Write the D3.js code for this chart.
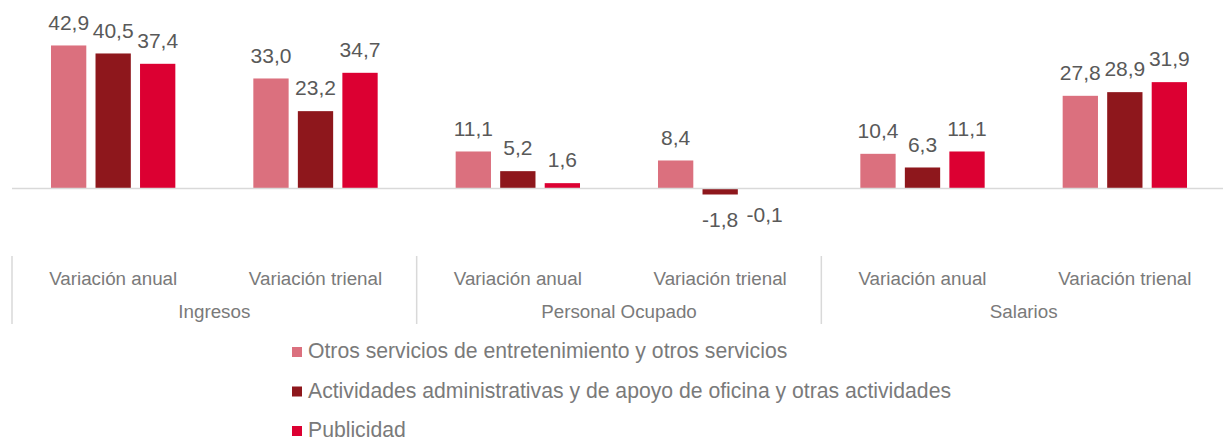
<!DOCTYPE html>
<html>
<head>
<meta charset="utf-8">
<script src="https://cdn.jsdelivr.net/npm/d3@7"></script>
<style>
  body { margin: 0; background: #fff; }
  svg { display: block; font-family: "Liberation Sans", Arial, sans-serif; }
  .val { fill: #595959; font-size: 21px; text-anchor: middle; }
  .cat { fill: #7a7a7a; font-size: 18.8px; text-anchor: middle; }
  .leg { fill: #7a7a7a; font-size: 21.2px; }
</style>
</head>
<body>
<div id="chart"></div>
<script>
// data
var groups = ["Ingresos", "Personal Ocupado", "Salarios"];
var periods = ["Variación anual", "Variación trienal"];
var series = [
  "Otros servicios de entretenimiento y otros servicios",
  "Actividades administrativas y de apoyo de oficina y otras actividades",
  "Publicidad"
];
var colors = ["#db707e", "#8e171c", "#dc0032"];
// one array per series, in order: Ingresos anual/trienal, Personal anual/trienal, Salarios anual/trienal
var otrosServicios = [42.9, 33.0, 11.1, 8.4, 10.4, 27.8];
var actividadesAdmin = [40.5, 23.2, 5.2, -1.8, 6.3, 28.9];
var publicidad = [37.4, 34.7, 1.6, -0.1, 11.1, 31.9];
var values = [otrosServicios, actividadesAdmin, publicidad];

var width = 1223, height = 440;

var svg = d3.select("#chart").append("svg")
  .attr("width", width)
  .attr("height", height);

var cats = d3.range(groups.length * periods.length);

var x0 = d3.scaleBand().domain(cats).range([12, 1226]);
var x1 = d3.scaleBand().domain(d3.range(series.length))
  .range([0, x0.bandwidth()])
  .paddingInner(0.207)
  .paddingOuter(0.876);

var y = d3.scaleLinear().domain([-15, 50]).range([238.5, 21.8]);

var fmt = function(v) { return d3.format(".1f")(v).replace(".", ",").replace("−", "-"); };

// bars
var catG = svg.append("g").selectAll("g")
  .data(cats)
  .join("g")
  .attr("transform", function(c) { return "translate(" + x0(c) + ",0)"; });

catG.selectAll("rect")
  .data(function(c) { return values.map(function(s, i) { return { s: i, v: s[c] }; }); })
  .join("rect")
  .attr("x", function(d) { return x1(d.s); })
  .attr("width", x1.bandwidth())
  .attr("y", function(d) { return y(Math.max(0, d.v)); })
  .attr("height", function(d) { return Math.abs(y(d.v) - y(0)); })
  .attr("fill", function(d) { return colors[d.s]; });

// zero line
svg.append("line")
  .attr("x1", 12).attr("x2", width)
  .attr("y1", y(0)).attr("y2", y(0))
  .attr("stroke", "#d9d9d9")
  .attr("stroke-width", 1.5);

// value labels
catG.selectAll("text")
  .data(function(c) { return values.map(function(s, i) { return { s: i, v: s[c] }; }); })
  .join("text")
  .attr("class", "val")
  .attr("x", function(d) { return x1(d.s) + x1.bandwidth() / 2; })
  .attr("y", function(d) { return d.v >= 0 ? y(d.v) - 15.7 : y(d.v) + 33; })
  .text(function(d) { return fmt(d.v); });

// category axis
var axisG = svg.append("g");
axisG.selectAll("text.period")
  .data(cats)
  .join("text")
  .attr("class", "cat period")
  .attr("x", function(c) { return x0(c) + x0.bandwidth() / 2; })
  .attr("y", 285)
  .text(function(c) { return periods[c % periods.length]; });

axisG.selectAll("text.group")
  .data(groups)
  .join("text")
  .attr("class", "cat group")
  .attr("x", function(g, i) { return x0(i * 2) + x0.bandwidth(); })
  .attr("y", 318)
  .text(function(g) { return g; });

axisG.selectAll("line")
  .data(d3.range(groups.length + 1))
  .join("line")
  .attr("x1", function(i) { return x0.range()[0] + i * 2 * x0.bandwidth(); })
  .attr("x2", function(i) { return x0.range()[0] + i * 2 * x0.bandwidth(); })
  .attr("y1", 256).attr("y2", 324)
  .attr("stroke", "#d9d9d9")
  .attr("stroke-width", 1.5);

// legend
var leg = svg.append("g").selectAll("g")
  .data(series)
  .join("g")
  .attr("transform", function(s, i) { return "translate(292," + (347 + i * 39.5) + ")"; });

leg.append("rect")
  .attr("width", 10).attr("height", 10)
  .attr("fill", function(s, i) { return colors[i]; });

leg.append("text")
  .attr("class", "leg")
  .attr("x", 16)
  .attr("y", 11)
  .text(function(s) { return s; });
</script>
</body>
</html>
